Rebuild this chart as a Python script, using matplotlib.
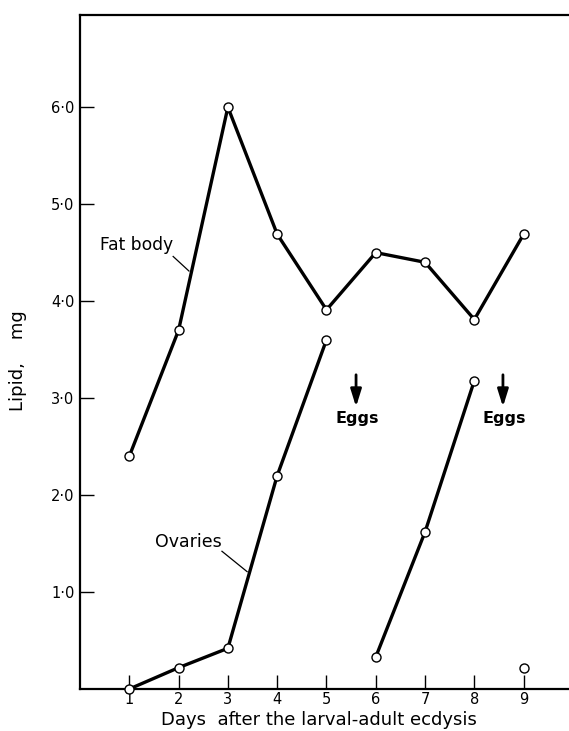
import numpy as np
import matplotlib
matplotlib.use("Agg")
import matplotlib.pyplot as plt

plt.rcParams["font.family"] = ["DejaVu Sans"]

# Lipid content (mg) after the larval-adult ecdysis
days = [1, 2, 3, 4, 5, 6, 7, 8, 9]
fat_body = [2.4, 3.7, 6.0, 4.69, 3.91, 4.5, 4.4, 3.81, 4.69]
ovaries = [0.0, 0.22, 0.42, 2.2, 3.6, 0.33, 1.62, 3.18, 0.22]
# ovarian cycle each ovary value belongs to (lines join only within a cycle)
ovary_cycle = [1, 1, 1, 1, 1, 2, 2, 2, 3]
egg_days = [5.6, 8.58]
x_ticks = [1, 2, 3, 4, 5, 6, 7, 8, 9]
y_ticks = [1.0, 2.0, 3.0, 4.0, 5.0, 6.0]

W, H = 569, 731
fig = plt.figure(figsize=(W / 100, H / 100), dpi=100)
ax = fig.add_axes([80 / W, 42 / H, (W - 80) / W, 674 / H])

line_kw = dict(color="black", lw=2.4, marker="o", ms=6.5, mfc="white",
               mec="black", mew=1.0, clip_on=False, zorder=3)

ax.plot(days, fat_body, **line_kw)

d = np.array(days)
o = np.array(ovaries)
c = np.array(ovary_cycle)
for cyc in sorted(set(ovary_cycle)):
    m = c == cyc
    ax.plot(d[m], o[m], **line_kw)

ax.set_xlim(0, 9.92)
ax.set_ylim(0, 6.95)

ax.set_xticks(x_ticks)
ax.set_xticklabels([str(v) for v in x_ticks])
ax.set_yticks(y_ticks)
ax.set_yticklabels([f"{v:.1f}".replace(".", "\u00b7") for v in y_ticks])

ax.tick_params(axis="both", direction="in", length=10, width=1.0,
               labelsize=10.5, color="black")
ax.tick_params(axis="y", pad=4)
ax.tick_params(axis="x", pad=2)

ax.spines["right"].set_visible(False)
for s in ("left", "top", "bottom"):
    ax.spines[s].set_linewidth(1.6)

ax.set_xlabel("Days  after the larval-adult ecdysis", fontsize=13)
ax.xaxis.set_label_coords(0.489, -0.033)
ax.set_ylabel("Lipid,    mg", fontsize=13)
ax.yaxis.set_label_coords(-0.108, 0.487)

# series labels with leader lines
ax.text(0.41, 4.58, "Fat body", fontsize=12.3, ha="left", va="center")
ax.plot([1.89, 2.21], [4.46, 4.31], color="black", lw=0.9)
ax.text(1.52, 1.52, "Ovaries", fontsize=12.5, ha="left", va="center")
ax.plot([2.88, 3.39], [1.42, 1.21], color="black", lw=0.9)

# egg laying markers
for ex in egg_days:
    ax.annotate("", xy=(ex, 2.91), xytext=(ex, 3.24),
                arrowprops=dict(arrowstyle="-|>,head_width=0.25,head_length=0.8",
                                lw=2.0, color="black",
                                mutation_scale=13, shrinkA=0, shrinkB=0))
    ax.text(ex + 0.03, 2.79, "Eggs", fontsize=11.5, fontweight="bold",
            ha="center", va="center")

fig.savefig("out.png", dpi=100)
